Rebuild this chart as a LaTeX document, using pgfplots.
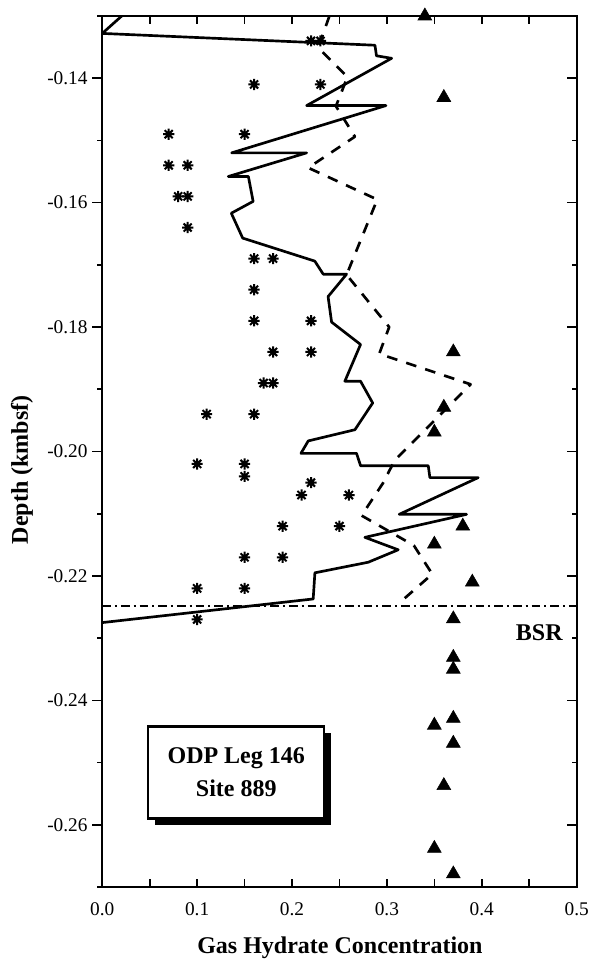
\documentclass[border=0pt]{standalone}
\usepackage{fontspec}
\setmainfont{Liberation Serif}
\usepackage{pgfplots}
\pgfplotsset{compat=1.18}

% eight-armed asterisk for the core-sample estimates
\pgfdeclareplotmark{star8}{%
  \pgfpathmoveto{\pgfqpoint{-\pgfplotmarksize}{0pt}}%
  \pgfpathlineto{\pgfqpoint{\pgfplotmarksize}{0pt}}%
  \pgfpathmoveto{\pgfqpoint{0pt}{-\pgfplotmarksize}}%
  \pgfpathlineto{\pgfqpoint{0pt}{\pgfplotmarksize}}%
  \pgfpathmoveto{\pgfqpoint{-0.72\pgfplotmarksize}{-0.72\pgfplotmarksize}}%
  \pgfpathlineto{\pgfqpoint{0.72\pgfplotmarksize}{0.72\pgfplotmarksize}}%
  \pgfpathmoveto{\pgfqpoint{-0.72\pgfplotmarksize}{0.72\pgfplotmarksize}}%
  \pgfpathlineto{\pgfqpoint{0.72\pgfplotmarksize}{-0.72\pgfplotmarksize}}%
  \pgfusepathqstroke}

\newcommand{\tickfont}{\fontsize{14.5}{17}\selectfont}
\newcommand{\labfont}{\bfseries\fontsize{18}{21}\selectfont}

\pgfplotsset{
  depthframe/.style={
    scale only axis, width=355.8pt, height=653.25pt,
    xmin=0, xmax=0.5, ymin=-0.27, ymax=-0.13,
    tick style={black, line width=1.2pt},
  },
}

\begin{document}
\begin{tikzpicture}
% main axis: data, box and x ticks
\begin{axis}[
  depthframe,
  axis line style={line width=1.4pt},
  tick align=inside,
  major tick length=6pt,
  xtick={0,0.05,0.1,0.15,0.2,0.25,0.3,0.35,0.4,0.45,0.5},
  xticklabels={0.0,,0.1,,0.2,,0.3,,0.4,,0.5},
  xtick pos=both,
  ytick=\empty,
  xticklabel style={font=\tickfont, yshift=-8pt},
  xlabel={Gas Hydrate Concentration},
  every axis x label/.style={at={(axis description cs:0.501,-0.0758)}, anchor=base, font=\labfont},
]

% bottom-simulating reflector
\addplot[black, line width=1.1pt, dash pattern=on 6.5pt off 3pt on 1.5pt off 3pt]
  coordinates {(0,-0.2248) (0.5,-0.2248)};

% core-sample estimates
\addplot[only marks, mark=star8, mark size=4.2pt, mark options={line width=1.5pt, black}]
  table {
x y
0.22 -0.134
0.23 -0.134
0.16 -0.141
0.23 -0.141
0.07 -0.149
0.15 -0.149
0.07 -0.154
0.09 -0.154
0.08 -0.159
0.09 -0.159
0.09 -0.164
0.16 -0.169
0.18 -0.169
0.16 -0.174
0.16 -0.179
0.22 -0.179
0.18 -0.184
0.22 -0.184
0.17 -0.189
0.18 -0.189
0.11 -0.194
0.16 -0.194
0.10 -0.202
0.15 -0.202
0.15 -0.204
0.22 -0.205
0.21 -0.207
0.26 -0.207
0.19 -0.212
0.25 -0.212
0.15 -0.217
0.19 -0.217
0.10 -0.222
0.15 -0.222
0.10 -0.227
};

% resistivity-log estimate
\addplot[black, line width=2pt, line join=round]
  table {
x y
0.0205 -0.1300
0.0000 -0.1328
0.2874 -0.1347
0.2890 -0.1364
0.3050 -0.1368
0.2154 -0.1444
0.2990 -0.1444
0.1364 -0.1520
0.2154 -0.1520
0.1328 -0.1558
0.1540 -0.1558
0.1590 -0.1598
0.1360 -0.1617
0.1480 -0.1657
0.2240 -0.1694
0.2329 -0.1715
0.2575 -0.1715
0.2380 -0.1751
0.2417 -0.1792
0.2722 -0.1828
0.2557 -0.1887
0.2722 -0.1887
0.2850 -0.1922
0.2663 -0.1965
0.2171 -0.1983
0.2094 -0.2003
0.2680 -0.2003
0.2723 -0.2023
0.3436 -0.2023
0.3453 -0.2042
0.3962 -0.2042
0.3130 -0.2101
0.3840 -0.2101
0.2768 -0.2138
0.3119 -0.2158
0.2803 -0.2178
0.2241 -0.2195
0.2223 -0.2237
0.0000 -0.2275
};

% velocity-log estimate
\addplot[black, line width=2pt, line join=round, dash pattern=on 8pt off 7pt]
  table {
x y
0.2394 -0.1300
0.2276 -0.1351
0.2584 -0.1398
0.2463 -0.1445
0.2663 -0.1494
0.2171 -0.1544
0.2898 -0.1595
0.2575 -0.1716
0.3024 -0.1800
0.2919 -0.1843
0.3882 -0.1892
0.3083 -0.2014
0.2958 -0.2051
0.2733 -0.2103
0.3284 -0.2151
0.3478 -0.2197
0.3119 -0.2245
};

% chlorine-anomaly estimates
\addplot[only marks, mark=triangle*, mark size=6pt, mark options={fill=black, draw=black, line width=0.4pt}]
  table {
x y
0.34 -0.1300
0.36 -0.1431
0.37 -0.1840
0.36 -0.1929
0.35 -0.1969
0.38 -0.2120
0.35 -0.2149
0.39 -0.2210
0.37 -0.2269
0.37 -0.2331
0.37 -0.2350
0.37 -0.2429
0.35 -0.2440
0.37 -0.2469
0.36 -0.2537
0.35 -0.2638
0.37 -0.2679
};

\node[anchor=base east, font=\labfont, inner sep=0pt] at (axis cs:0.4855,-0.2303) {BSR};

% site label with drop shadow
\fill[black] (axis cs:0.0559,-0.2601) rectangle (axis cs:0.2414,-0.2453);
\draw[line width=1.6pt, fill=white] (axis cs:0.0485,-0.2590) rectangle (axis cs:0.2340,-0.2442);
\node[anchor=base, font=\labfont, inner sep=0pt] at (axis cs:0.1412,-0.2501) {ODP Leg 146};
\node[anchor=base, font=\labfont, inner sep=0pt] at (axis cs:0.1412,-0.2554) {Site 889};
\end{axis}

% right-hand depth ticks (inside)
\begin{axis}[
  depthframe,
  axis line style={draw=none},
  tick align=inside,
  major tick length=7.5pt, minor tick length=3.75pt,
  xtick=\empty,
  ytick={-0.26,-0.24,-0.22,-0.20,-0.18,-0.16,-0.14},
  yticklabels={,,,,,,},
  minor ytick={-0.27,-0.25,-0.23,-0.21,-0.19,-0.17,-0.15,-0.13},
  ytick pos=right,
]
\end{axis}

% left-hand depth ticks (outside) with labels
\begin{axis}[
  depthframe,
  axis line style={draw=none},
  tick align=outside,
  major tick length=7.5pt, minor tick length=3.75pt,
  xtick=\empty,
  ytick={-0.26,-0.24,-0.22,-0.20,-0.18,-0.16,-0.14},
  yticklabels={-0.26,-0.24,-0.22,-0.20,-0.18,-0.16,-0.14},
  minor ytick={-0.27,-0.25,-0.23,-0.21,-0.19,-0.17,-0.15,-0.13},
  ytick pos=left,
  yticklabel style={font=\tickfont},
  ylabel={Depth (kmbsf)},
  every axis y label/.style={at={(axis description cs:-0.169,0.479)}, rotate=90, anchor=center, font=\labfont},
]
\end{axis}

\pgfresetboundingbox
\path[use as bounding box]
  ([xshift=-76.7pt,yshift=-54pt]current axis.south west)
  rectangle ([xshift=11.5pt,yshift=12pt]current axis.north east);
\end{tikzpicture}
\end{document}
